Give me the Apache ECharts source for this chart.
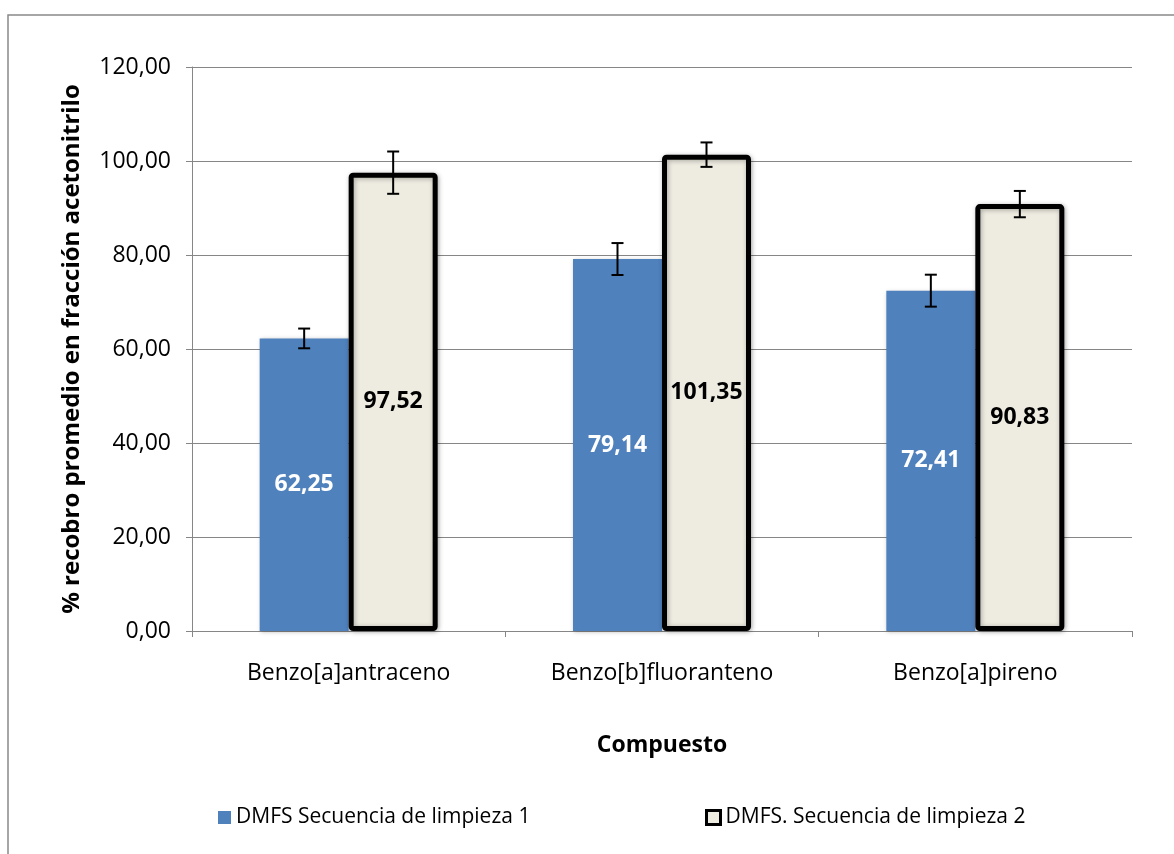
<!DOCTYPE html>
<html><head><meta charset="utf-8">
<script src="https://cdn.jsdelivr.net/npm/echarts@6/dist/echarts.min.js"></script>
<style>html,body{margin:0;padding:0;background:#fff}#c{width:1174px;height:854px}</style>
</head><body><div id="c"></div>
<script>
const categories = ['Benzo[a]antraceno', 'Benzo[b]fluoranteno', 'Benzo[a]pireno'];
const seriesNames = ['DMFS Secuencia de limpieza 1', 'DMFS. Secuencia de limpieza 2'];
const values1 = [62.25, 79.14, 72.41];
const values2 = [97.52, 101.35, 90.83];
const errors1 = [2.1, 3.4, 3.4];
const errors2 = [4.5, 2.6, 2.8];
const yTicks = [0, 20, 40, 60, 80, 100, 120];

const FONT = 'Open Sans, Noto Sans, sans-serif';
const fmt = v => v.toFixed(2).replace('.', ',');
const BW = 89;

function errSeries(vals, errs, offset) {
  return {
    type: 'custom',
    z: 10,
    data: vals.map((v, i) => [i, v, errs[i]]),
    renderItem: function (params, api) {
      const i = api.value(0), v = api.value(1), e = api.value(2);
      const top = api.coord([i, v + e]);
      const bot = api.coord([i, v - e]);
      const x = top[0] + offset;
      const st = { stroke: '#000', lineWidth: 2 };
      return { type: 'group', children: [
        { type: 'line', shape: { x1: x, y1: top[1], x2: x, y2: bot[1] }, style: st },
        { type: 'line', shape: { x1: x - 6, y1: top[1], x2: x + 6, y2: top[1] }, style: st },
        { type: 'line', shape: { x1: x - 6, y1: bot[1], x2: x + 6, y2: bot[1] }, style: st }
      ]};
    },
    silent: true
  };
}

const chart = echarts.init(document.getElementById('c'));
chart.setOption({
  animation: false,
  textStyle: { fontFamily: FONT },
  graphic: [{ type: 'rect', shape: { x: 8, y: 15, width: 1180, height: 860 }, style: { fill: 'none', stroke: '#898989', lineWidth: 1.5 }, z: -1 }],
  grid: { left: 192, right: 42, top: 67, bottom: 223 },
  legend: [
    { left: 213, top: 802, itemWidth: 13, itemHeight: 13, itemGap: 10, icon: 'rect',
      textStyle: { fontSize: 21, color: '#000', fontFamily: FONT }, data: [seriesNames[0]] },
    { left: 700, top: 802, itemWidth: 14, itemHeight: 14, itemGap: 4, icon: 'rect',
      textStyle: { fontSize: 21, color: '#000', fontFamily: FONT },
      data: [{ name: seriesNames[1], itemStyle: { borderWidth: 3, borderColor: '#000', color: '#EEECE1' } }] }
  ],
  xAxis: {
    type: 'category', data: categories,
    name: 'Compuesto', nameLocation: 'middle', nameGap: 103,
    nameTextStyle: { fontSize: 23, fontWeight: 'bold', color: '#000', fontFamily: FONT },
    axisLine: { lineStyle: { color: '#868686', width: 1 } },
    axisTick: { show: true, length: 6, lineStyle: { color: '#868686' } },
    axisLabel: { fontSize: 23, color: '#000', margin: 31, fontFamily: FONT }
  },
  yAxis: {
    type: 'value', min: 0, max: 120, interval: 20,
    name: '% recobro promedio en fracción acetonitrilo', nameLocation: 'middle', nameGap: 108,
    nameTextStyle: { fontSize: 24, fontWeight: 'bold', color: '#000', fontFamily: FONT },
    axisLine: { show: true, lineStyle: { color: '#868686', width: 1 } },
    axisTick: { show: true, length: 6, lineStyle: { color: '#868686' } },
    splitLine: { lineStyle: { color: '#868686', width: 1 } },
    axisLabel: { fontSize: 23, color: '#000', margin: 21, fontFamily: FONT,
      formatter: v => yTicks.includes(v) ? fmt(v) : '' }
  },
  series: [
    { name: seriesNames[0], type: 'bar', data: values1, barWidth: BW, barGap: '0%',
      itemStyle: { color: '#4F81BD', shadowColor: 'rgba(0,0,0,0.25)', shadowBlur: 4, shadowOffsetX: 1, shadowOffsetY: 1 },
      label: { show: true, position: 'inside', formatter: p => fmt(p.value), fontSize: 23, fontWeight: 'bold', color: '#fff', fontFamily: FONT } },
    { name: seriesNames[1], type: 'bar', data: values2, barWidth: BW, barGap: '0%',
      itemStyle: { color: '#EEECE1', borderColor: '#000', borderWidth: 5, borderRadius: 2, shadowColor: 'rgba(0,0,0,0.3)', shadowBlur: 5, shadowOffsetX: 1, shadowOffsetY: 1 },
      label: { show: true, position: 'inside', formatter: p => fmt(p.value), fontSize: 23, fontWeight: 'bold', color: '#000', fontFamily: FONT } },
    errSeries(values1, errors1, -BW / 2),
    errSeries(values2, errors2, BW / 2)
  ]
});
</script></body></html>
